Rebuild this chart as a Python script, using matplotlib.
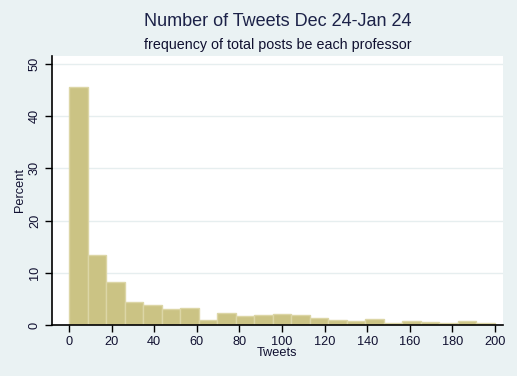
import numpy as np
import matplotlib
matplotlib.use("Agg")
import matplotlib.pyplot as plt

# Histogram: 23 equal-width bins from 0 to 200, heights in percent
bin_start = 0.0
bin_end = 200.0
percent = [45.6, 13.4, 8.2, 4.4, 3.85, 3.07, 3.26, 0.96, 2.3, 1.72, 1.92, 2.15,
           1.92, 1.34, 0.96, 0.77, 1.15, 0.38, 0.77, 0.57, 0.38, 0.77, 0.38]
x_ticks = [0, 20, 40, 60, 80, 100, 120, 140, 160, 180, 200]
y_ticks = [0, 10, 20, 30, 40, 50]
title = "Number of Tweets Dec 24-Jan 24"
subtitle = "frequency of total posts be each professor"
xlabel = "Tweets"
ylabel = "Percent"

plt.rcParams['font.family'] = ['Liberation Sans', 'DejaVu Sans']
BG = '#EAF2F3'
TXT = '#101030'

W, H = 517, 376
fig = plt.figure(figsize=(W / 100, H / 100), dpi=100, facecolor=BG)
ax = fig.add_axes([52 / W, 1 - 325 / H, (503 - 52) / W, (325 - 56) / H])
ax.set_facecolor('white')

n = len(percent)
edges = np.linspace(bin_start, bin_end, n + 1)
width = edges[1] - edges[0]
ax.bar(edges[:-1], percent, width=width, align='edge',
       color='#CBC384', edgecolor='#DCD6A6', linewidth=1.0, zorder=3)

ax.set_xlim(-8.0, 203.8)
ax.set_ylim(0, 51.5)
ax.set_xticks(x_ticks)
ax.set_yticks(y_ticks)
ax.set_yticklabels([str(v) for v in y_ticks], rotation=90, va='center')
for v in y_ticks[1:]:
    ax.axhline(v, color='#E6EEEF', linewidth=1.0, zorder=1)

for s in ['top', 'right']:
    ax.spines[s].set_visible(False)
for s in ['left', 'bottom']:
    ax.spines[s].set_color('black')
    ax.spines[s].set_linewidth(1.2)
    ax.spines[s].set_zorder(5)

ax.tick_params(axis='both', direction='out', length=5, width=1.0, color='black',
               labelsize=9.2, labelcolor=TXT)
ax.tick_params(axis='y', pad=3)
ax.tick_params(axis='x', pad=3)

ax.set_xlabel(xlabel, fontsize=9.2, color=TXT, labelpad=-1)
ax.set_ylabel(ylabel, fontsize=9.2, color=TXT, labelpad=2)

fig.text(0.5 * (52 + 503) / W, 1 - 22 / H, title, ha='center', va='center',
         fontsize=13, color='#1C2248')
fig.text(0.5 * (52 + 503) / W, 1 - 45 / H, subtitle, ha='center', va='center',
         fontsize=10.3, color=TXT)

fig.savefig('out.png', dpi=100, facecolor=BG)
